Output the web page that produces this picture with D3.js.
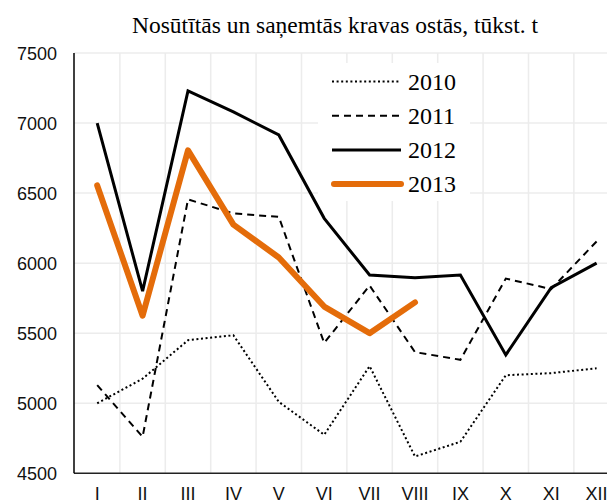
<!DOCTYPE html>
<html lang="lv">
<head>
<meta charset="UTF-8">
<title>Nosūtītās un saņemtās kravas ostās</title>
<script src="https://d3js.org/d3.v7.min.js"></script>
<style>
  body { margin: 0; background: #fff; }
  svg { display: block; }
</style>
</head>
<body>
<script>

var months = ["I", "II", "III", "IV", "V", "VI", "VII", "VIII", "IX", "X", "XI", "XII"];
var yTicks = [4500, 5000, 5500, 6000, 6500, 7000, 7500];

var v2010 = [5000, 5175, 5450, 5485, 5010, 4775, 5265, 4620, 4725, 5200, 5215, 5250];
var v2011 = [5130, 4760, 6455, 6355, 6330, 5430, 5840, 5365, 5310, 5890, 5815, 6155];
var v2012 = [7000, 5800, 7230, 7080, 6915, 6320, 5915, 5895, 5915, 5345, 5825, 6000];
var v2013 = [6555, 5625, 6805, 6275, 6040, 5690, 5500, 5720];

var series = [
    { name: "2010", values: v2010, color: "#000", width: 2, dash: "2,2.6", cap: "butt" },
    { name: "2011", values: v2011, color: "#000", width: 2, dash: "7,5", cap: "butt" },
    { name: "2012", values: v2012, color: "#000", width: 3, dash: null, cap: "butt" },
    { name: "2013", values: v2013, color: "#E46C0A", width: 6, dash: null, cap: "round" }
];

var width = 607, height = 502;

var svg = d3.select("body").append("svg")
    .attr("width", width)
    .attr("height", height);

var x = d3.scaleBand()
    .domain(months)
    .range([74.5, 74.5 + 12 * 45.4]);

var y = d3.scaleLinear()
    .domain([4500, 7500])
    .range([473.3, 53]);

// gridlines
var grid = svg.append("g").attr("stroke", "#ececec").attr("stroke-width", 1.5);
grid.selectAll("line.h")
    .data(yTicks.slice(1))
    .enter().append("line")
    .attr("x1", 74).attr("x2", width)
    .attr("y1", function(d) { return y(d); })
    .attr("y2", function(d) { return y(d); });
grid.selectAll("line.v")
    .data(months.slice(1))
    .enter().append("line")
    .attr("x1", function(d) { return x(d); })
    .attr("x2", function(d) { return x(d); })
    .attr("y1", y(7500)).attr("y2", y(4500));

// y axis labels
svg.append("g")
    .selectAll("text")
    .data(yTicks)
    .enter().append("text")
    .attr("x", 57)
    .attr("y", function(d) { return y(d) + 6.5; })
    .attr("text-anchor", "end")
    .style("font-family", "'Liberation Sans', Arial, sans-serif")
    .style("font-size", "18px")
    .style("fill", "#111")
    .text(function(d) { return d; });

// x axis labels
svg.append("g")
    .selectAll("text")
    .data(months)
    .enter().append("text")
    .attr("x", function(d) { return x(d) + x.bandwidth() / 2; })
    .attr("y", 500)
    .attr("text-anchor", "middle")
    .style("font-family", "'Liberation Sans', Arial, sans-serif")
    .style("font-size", "18px")
    .style("fill", "#111")
    .text(function(d) { return d; });

// axes
svg.append("line")
    .attr("x1", 74).attr("x2", width)
    .attr("y1", y(4500)).attr("y2", y(4500))
    .attr("stroke", "#222").attr("stroke-width", 1.5);
svg.append("line")
    .attr("x1", 74).attr("x2", 74)
    .attr("y1", y(7500)).attr("y2", y(4500))
    .attr("stroke", "#000").attr("stroke-width", 1.5);

// legend box (hides gridlines)
svg.append("rect")
    .attr("x", 318).attr("y", 63)
    .attr("width", 152).attr("height", 138)
    .attr("fill", "#fff");

// lines
var line = d3.line()
    .x(function(d, i) { return x(months[i]) + x.bandwidth() / 2; })
    .y(function(d) { return y(d); });

svg.append("g")
    .selectAll("path")
    .data(series)
    .enter().append("path")
    .attr("d", function(d) { return line(d.values); })
    .attr("fill", "none")
    .attr("stroke", function(d) { return d.color; })
    .attr("stroke-width", function(d) { return d.width; })
    .attr("stroke-dasharray", function(d) { return d.dash; })
    .attr("stroke-linecap", function(d) { return d.cap; })
    .attr("stroke-linejoin", function(d) { return d.cap === "round" ? "round" : "miter"; });

// legend
var legend = svg.append("g")
    .selectAll("g")
    .data(series)
    .enter().append("g")
    .attr("transform", function(d, i) { return "translate(0," + (81.5 + i * 34.2) + ")"; });

legend.append("line")
    .attr("x1", function(d) { return d.cap === "round" ? 334 : 332; })
    .attr("x2", 401)
    .attr("stroke", function(d) { return d.color; })
    .attr("stroke-width", function(d) { return d.width; })
    .attr("stroke-dasharray", function(d) { return d.dash; })
    .attr("stroke-linecap", function(d) { return d.cap; });

legend.append("text")
    .attr("x", 408)
    .attr("y", 8)
    .style("font-family", "'Liberation Serif', 'Times New Roman', serif")
    .style("font-size", "24px")
    .style("fill", "#000")
    .text(function(d) { return d.name; });

// title
svg.append("text")
    .attr("x", 335)
    .attr("y", 33)
    .attr("text-anchor", "middle")
    .style("font-family", "'Liberation Serif', 'Times New Roman', serif")
    .style("font-size", "23.5px")
    .style("fill", "#000")
    .text("Nosūtītās un saņemtās kravas ostās, tūkst. t");

</script>
</body>
</html>
